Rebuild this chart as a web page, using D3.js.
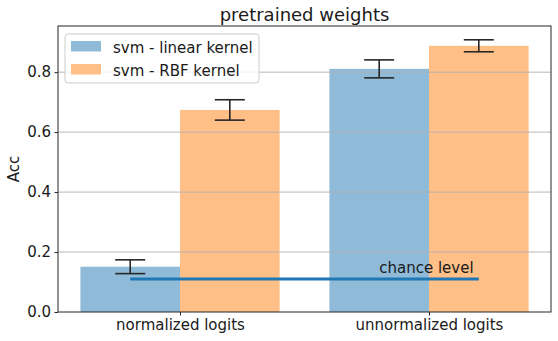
<!DOCTYPE html>
<html>
<head>
<meta charset="UTF-8">
<title>pretrained weights</title>
<script src="https://cdn.jsdelivr.net/npm/d3@7"></script>
<style>
    body { margin: 0; background: #fff; }
    svg { font-family: "DejaVu Sans", sans-serif; display: block; }
</style>
</head>
<body>
<script>
// data
var categories = ["normalized logits", "unnormalized logits"];
var seriesNames = ["svm - linear kernel", "svm - RBF kernel"];
var seriesColors = ["#8fbbd9", "#ffbf86"];
var linearAcc = [0.151, 0.811];
var linearErr = [0.023, 0.030];
var rbfAcc = [0.674, 0.888];
var rbfErr = [0.034, 0.020];
var yTicks = [0.0, 0.2, 0.4, 0.6, 0.8];
var chanceLevel = 0.11;

var width = 558, height = 341;
var margin = { top: 26, right: 7, bottom: 29, left: 58 };
var iw = width - margin.left - margin.right;
var ih = height - margin.top - margin.bottom;

var svg = d3.select("body").append("svg")
    .attr("width", width)
    .attr("height", height);

var g = svg.append("g")
    .attr("transform", "translate(" + margin.left + "," + margin.top + ")");

// x 用数值轴, 类别在 0 和 1, 柱宽 0.4
var x = d3.scaleLinear().domain([-0.49, 1.49]).range([0, iw]);
var y = d3.scaleLinear().domain([0, 0.954]).range([ih, 0]);

var series = [
    { name: seriesNames[0], color: seriesColors[0], acc: linearAcc, err: linearErr, off: -0.2 },
    { name: seriesNames[1], color: seriesColors[1], acc: rbfAcc, err: rbfErr, off: 0.2 }
];
var barW = 0.4;

// 柱子
series.forEach(function (s) {
    g.selectAll(null)
        .data(s.acc)
        .enter()
        .append("rect")
        .attr("x", function (d, i) { return x(i + s.off - barW / 2); })
        .attr("width", x(barW) - x(0))
        .attr("y", function (d) { return y(d); })
        .attr("height", function (d) { return y(0) - y(d); })
        .attr("fill", s.color);
});

// 网格线 (在柱子上面)
g.selectAll(".grid")
    .data(yTicks.slice(1))
    .enter()
    .append("line")
    .attr("x1", 0).attr("x2", iw)
    .attr("y1", function (d) { return y(d); })
    .attr("y2", function (d) { return y(d); })
    .attr("stroke", "#b0b0b0")
    .attr("stroke-width", 0.9);

// 误差线
series.forEach(function (s) {
    s.acc.forEach(function (d, i) {
        var cx = x(i + s.off);
        var lo = y(d - s.err[i]), hi = y(d + s.err[i]);
        var eg = g.append("g").attr("stroke", "#262626").attr("stroke-width", 1.6);
        eg.append("line").attr("x1", cx).attr("x2", cx).attr("y1", lo).attr("y2", hi);
        eg.append("line").attr("x1", cx - 15).attr("x2", cx + 15).attr("y1", lo).attr("y2", lo);
        eg.append("line").attr("x1", cx - 15).attr("x2", cx + 15).attr("y1", hi).attr("y2", hi);
    });
});

// 机会水平
g.append("line")
    .attr("x1", x(-0.2)).attr("x2", x(1.2))
    .attr("y1", y(chanceLevel)).attr("y2", y(chanceLevel))
    .attr("stroke", "#1f77b4")
    .attr("stroke-width", 3);

g.append("text")
    .attr("x", x(0.8))
    .attr("y", y(0.13))
    .attr("font-size", 15)
    .attr("fill", "#1a1a1a")
    .text("chance level");

// 坐标轴
var yAxis = g.append("g")
    .call(d3.axisLeft(y).tickValues(yTicks).tickFormat(d3.format(".1f")).tickSizeOuter(0).tickSize(3.5).tickPadding(3.5));
yAxis.select(".domain").remove();
yAxis.selectAll("text").attr("font-size", 15).attr("fill", "#1a1a1a").attr("font-family", "DejaVu Sans");
yAxis.selectAll("line").attr("stroke", "#262626");

var xAxis = g.append("g")
    .attr("transform", "translate(0," + ih + ")")
    .call(d3.axisBottom(x).tickValues([0, 1]).tickFormat(function (d) { return categories[d]; }).tickSize(3.5).tickPadding(3.5));
xAxis.select(".domain").remove();
xAxis.selectAll("text").attr("font-size", 15).attr("fill", "#1a1a1a").attr("font-family", "DejaVu Sans");
xAxis.selectAll("line").attr("stroke", "#262626");

// 边框
g.append("rect")
    .attr("width", iw).attr("height", ih)
    .attr("fill", "none")
    .attr("stroke", "#262626")
    .attr("stroke-width", 1);

// 标题和 y 轴标签
svg.append("text")
    .attr("x", margin.left + iw / 2)
    .attr("y", 21)
    .attr("text-anchor", "middle")
    .attr("font-size", 18)
    .attr("fill", "#1a1a1a")
    .text("pretrained weights");

svg.append("text")
    .attr("transform", "translate(14," + (margin.top + ih / 2) + ") rotate(-90)")
    .attr("text-anchor", "middle")
    .attr("dy", "0.35em")
    .attr("font-size", 15)
    .attr("fill", "#1a1a1a")
    .text("Acc");

// 图例
var lg = svg.append("g").attr("transform", "translate(65,34)");
lg.append("rect")
    .attr("width", 194).attr("height", 49)
    .attr("rx", 3)
    .attr("fill", "#fff").attr("fill-opacity", 0.8)
    .attr("stroke", "#cccccc");
var items = lg.selectAll(".item")
    .data(series)
    .enter()
    .append("g")
    .attr("transform", function (d, i) { return "translate(6," + (7 + i * 23) + ")"; });
items.append("rect")
    .attr("width", 30).attr("height", 10.5)
    .attr("fill", function (d) { return d.color; });
items.append("text")
    .attr("x", 42)
    .attr("y", 11.5)
    .attr("font-size", 15)
    .attr("fill", "#1a1a1a")
    .text(function (d) { return d.name; });
</script>
</body>
</html>
